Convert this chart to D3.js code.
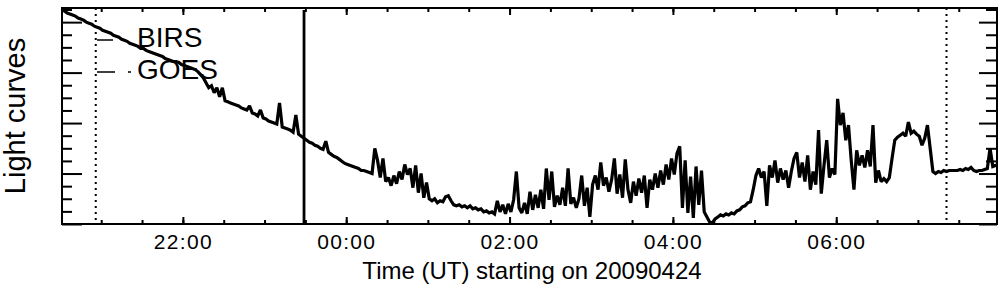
<!DOCTYPE html>
<html>
<head>
<meta charset="utf-8">
<script src="https://cdn.jsdelivr.net/npm/d3@7"></script>
<style>
  body { margin: 0; background: #ffffff; }
  svg { display: block; font-family: "Liberation Sans", Arial, Helvetica, sans-serif; }
</style>
</head>
<body>
<svg id="chart"></svg>
<script>

// BIRS light curve, one reading every 2 minutes from 20:31 UT (arbitrary units)
var startTime = "2009-04-24T20:31:00Z";
var stepMinutes = 2;
var counts = [
  212,211,209,208,207,206,204,203,202,200,
  199,198,196,195,194,192,191,190,189,187,
  186,185,183,182,181,179,178,177,176,174,
  174,172,171,170,169,168,167,166,164,163,
  162,161,161,160,158,157,156,155,154,153,
  151,148,145,140,135,137,130,135,126,135,
  122,121,120,119,118,117,115,114,113,117,
  110,109,107,113,105,104,102,101,100,99,
  120,96,95,94,93,91,108,89,87,85,
  83,81,80,78,77,75,74,82,71,69,
  67,66,64,62,60,59,58,57,56,55,
  53,53,52,51,50,75,63,46,65,42,
  46,38,48,40,52,44,59,49,55,36,
  58,31,50,26,41,25,23,25,21,23,
  22,27,28,23,19,18,19,17,18,16,
  18,15,16,14,15,12,13,11,12,10,
  23,12,19,10,20,12,24,52,16,11,
  21,10,32,14,29,16,34,15,55,24,
  52,17,28,19,36,18,55,20,26,16,
  25,48,18,36,7,39,48,34,61,38,
  46,32,44,65,30,49,26,64,34,21,
  42,28,45,31,48,16,44,34,50,36,
  53,39,59,44,65,49,70,77,16,63,
  11,47,6,57,19,53,12,7,2,1,
  5,7,9,8,10,9,11,10,13,14,
  17,18,21,22,34,48,55,46,52,18,
  58,46,63,41,55,44,53,36,52,65,
  71,46,61,42,68,34,52,39,93,30,
  58,83,46,55,49,124,98,110,83,98,
  63,34,73,58,68,56,73,57,98,41,
  53,42,45,42,46,65,83,86,88,90,
  87,101,90,92,89,87,78,85,98,75,
  52,50,52,51,53,52,53,53,53,53,
  54,53,55,54,56,53,52,53,53,54,
  55,75,57,58,58
];

var xDomain = ["2009-04-24T20:31:12Z", "2009-04-25T07:58:06Z"];
var yDomain = [0, 214];
var yMajorTicks = [0, 50, 100, 150, 200];
var yMinorTicks = [12.5, 25, 37.5, 62.5, 75, 87.5, 112.5, 125, 137.5, 162.5, 175, 187.5, 212.5];

// marker lines
var dottedTimes = ["2009-04-24T20:56:00Z", "2009-04-25T07:21:00Z"];
var dashedTimes = ["2009-04-24T23:29:00Z"];

var legendLabels = ["BIRS", "GOES"];
var xTitle = "Time (UT) starting on 20090424";
var yTitle = "Light curves";

var width = 1004;
var height = 296;
var plotLeft = 62, plotRight = 997, plotTop = 8, plotBottom = 224;

var svg = d3.select("#chart")
            .attr("width", width)
            .attr("height", height);

var x = d3.scaleUtc()
          .domain(xDomain.map(function(d) { return new Date(d); }))
          .range([plotLeft, plotRight]);

var y = d3.scaleLinear()
          .domain(yDomain)
          .range([plotBottom, plotTop]);

var t0 = new Date(startTime).getTime();
var series = counts.map(function(c, i)
  { return { t: new Date(t0 + i * stepMinutes * 60000), v: c }; });

svg.append("clipPath")
   .attr("id", "plotclip")
   .append("rect")
   .attr("x", plotLeft).attr("y", plotTop)
   .attr("width", plotRight - plotLeft).attr("height", plotBottom - plotTop);

//******************************** axes ********************************//

var fmt = d3.utcFormat("%H:%M");

svg.append("g")
   .attr("transform", "translate(0," + plotBottom + ")")
   .call(d3.axisBottom(x).ticks(d3.utcHour.every(2)).tickFormat(fmt)
           .tickSizeInner(-7).tickSizeOuter(0).tickPadding(10))
   .call(function(g) {
     g.select(".domain").remove();
     g.selectAll("text").attr("font-size", "21px").attr("letter-spacing", "1.3px")
      .attr("font-family", "Liberation Sans, Arial, sans-serif").attr("fill", "#000");
   });

svg.append("g")
   .attr("transform", "translate(0," + plotBottom + ")")
   .call(d3.axisBottom(x).ticks(d3.utcMinute.every(30)).tickFormat("")
           .tickSizeInner(-4).tickSizeOuter(0))
   .call(function(g) { g.select(".domain").remove(); });

svg.append("g")
   .attr("transform", "translate(0," + plotTop + ")")
   .call(d3.axisTop(x).ticks(d3.utcHour.every(2)).tickFormat("")
           .tickSizeInner(-7).tickSizeOuter(0))
   .call(function(g) { g.select(".domain").remove(); });

svg.append("g")
   .attr("transform", "translate(0," + plotTop + ")")
   .call(d3.axisTop(x).ticks(d3.utcMinute.every(30)).tickFormat("")
           .tickSizeInner(-4).tickSizeOuter(0))
   .call(function(g) { g.select(".domain").remove(); });

svg.append("g")
   .attr("transform", "translate(" + plotLeft + ",0)")
   .call(d3.axisLeft(y).tickValues(yMajorTicks).tickFormat("").tickSizeInner(-20).tickSizeOuter(0))
   .call(function(g) { g.select(".domain").remove(); });

svg.append("g")
   .attr("transform", "translate(" + plotLeft + ",0)")
   .call(d3.axisLeft(y).tickValues(yMinorTicks).tickFormat("").tickSizeInner(-10).tickSizeOuter(0))
   .call(function(g) { g.select(".domain").remove(); });

svg.append("g")
   .attr("transform", "translate(" + plotRight + ",0)")
   .call(d3.axisRight(y).tickValues(yMajorTicks).tickFormat("").tickSizeInner(-18).tickSizeOuter(0))
   .call(function(g) { g.select(".domain").remove(); });

svg.append("g")
   .attr("transform", "translate(" + plotRight + ",0)")
   .call(d3.axisRight(y).tickValues(yMinorTicks).tickFormat("").tickSizeInner(-11).tickSizeOuter(0))
   .call(function(g) { g.select(".domain").remove(); });

svg.selectAll(".tick line")
   .attr("stroke", "#000")
   .attr("stroke-width", 2);

//******************************** curve ********************************//

var line = d3.line()
             .x(function(d) { return x(d.t); })
             .y(function(d) { return y(d.v); });

svg.append("path")
   .datum(series)
   .attr("clip-path", "url(#plotclip)")
   .attr("d", line)
   .attr("fill", "none")
   .attr("stroke", "#000")
   .attr("stroke-width", 3.2)
   .attr("stroke-linejoin", "miter")
   .attr("stroke-miterlimit", 2);

// marker lines
svg.selectAll("line.dotted")
   .data(dottedTimes)
   .enter()
   .append("line")
   .attr("class", "dotted")
   .attr("x1", function(d) { return x(new Date(d)); })
   .attr("x2", function(d) { return x(new Date(d)); })
   .attr("y1", plotTop)
   .attr("y2", plotBottom)
   .attr("stroke", "#000")
   .attr("stroke-width", 2)
   .attr("stroke-dasharray", "2,4");

svg.selectAll("line.dashed")
   .data(dashedTimes)
   .enter()
   .append("line")
   .attr("class", "dashed")
   .attr("x1", function(d) { return x(new Date(d)); })
   .attr("x2", function(d) { return x(new Date(d)); })
   .attr("y1", plotTop + 2)
   .attr("y2", plotBottom)
   .attr("stroke", "#000")
   .attr("stroke-width", 2.8);

// frame
svg.append("rect")
   .attr("x", plotLeft).attr("y", plotTop)
   .attr("width", plotRight - plotLeft).attr("height", plotBottom - plotTop)
   .attr("fill", "none")
   .attr("stroke", "#000")
   .attr("stroke-width", 2);

//******************************** legend ********************************//

var legendStyles = ["none", "18,13,3,40"];

svg.selectAll("line.legend")
   .data(legendLabels)
   .enter()
   .append("line")
   .attr("class", "legend")
   .attr("x1", 97)
   .attr("x2", function(d, i) { return i == 0 ? 113 : 133; })
   .attr("y1", function(d, i) { return 40 + i * 32; })
   .attr("y2", function(d, i) { return 40 + i * 32; })
   .attr("stroke", "#000")
   .attr("stroke-width", 1.5)
   .attr("stroke-dasharray", function(d, i) { return legendStyles[i]; });

svg.selectAll("text.legend")
   .data(legendLabels)
   .enter()
   .append("text")
   .attr("class", "legend")
   .text(function(d) { return d; })
   .attr("x", 137)
   .attr("y", function(d, i) { return 47 + i * 32; })
   .attr("font-size", "28px")
   .attr("fill", "#000");

//******************************** titles ********************************//

svg.append("text")
   .text(xTitle)
   .attr("x", 532)
   .attr("y", 279)
   .attr("text-anchor", "middle")
   .attr("font-size", "24px")
   .attr("fill", "#000");

svg.append("text")
   .text(yTitle)
   .attr("transform", "translate(25,116) rotate(-90)")
   .attr("text-anchor", "middle")
   .attr("font-size", "29px")
   .attr("fill", "#000");

</script>
</body>
</html>
